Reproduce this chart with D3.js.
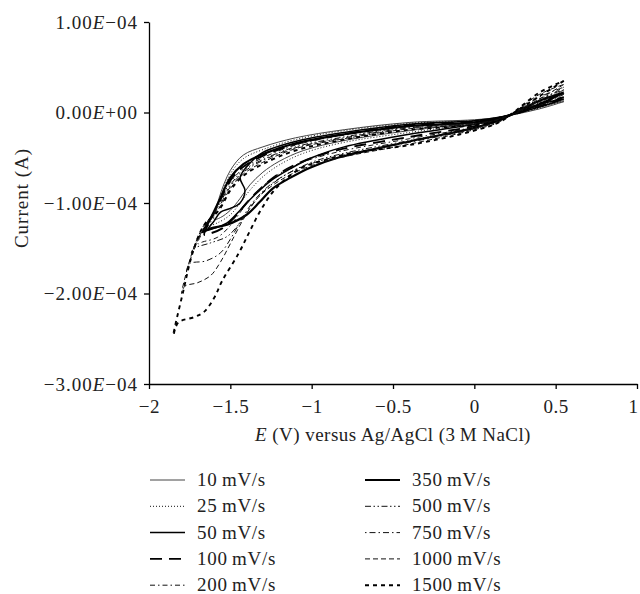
<!DOCTYPE html>
<html>
<head>
<meta charset="utf-8">
<script src="https://cdn.jsdelivr.net/npm/d3@7"></script>
<style>
  body { margin: 0; background: #fff; }
  svg { display: block; font-family: "Liberation Serif", "Times New Roman", serif; }
</style>
</head>
<body>
<div id="chart"></div>
<script>
// scan rates (mV/s), legend order
var scanRates = [10, 25, 50, 100, 200, 350, 500, 750, 1000, 1500];

// CV loops: [E (V), current (uA)]
// cathodic sweep from +0.55 V down to the vertex, then back up
var cv10 = [[0.55,12],[0.4,4],[0.16,-5],[0,-8],[-0.4,-11],[-0.8,-19],[-1.1,-28],[-1.3,-38],[-1.42,-47],[-1.5,-64],[-1.57,-95],[-1.60,-118],
            [-1.56,-116],[-1.50,-108],[-1.44,-95],[-1.38,-80],[-1.30,-66],[-1.2,-54],[-1.05,-42],[-0.8,-31],[-0.4,-20],[0,-11],[0.16,-5],[0.4,7],[0.55,12]];
var cv25 = [[0.55,13],[0.4,5],[0.16,-5],[0,-9],[-0.4,-12],[-0.8,-20],[-1.1,-30],[-1.3,-41],[-1.42,-51],[-1.5,-68],[-1.57,-98],[-1.62,-124],
            [-1.58,-122],[-1.50,-113],[-1.44,-100],[-1.38,-86],[-1.30,-71],[-1.2,-58],[-1.05,-45],[-0.8,-33],[-0.4,-22],[0,-12],[0.16,-6],[0.4,8],[0.55,13]];
var cv50 = [[0.55,15],[0.4,6],[0.16,-5],[0,-9],[-0.4,-13],[-0.8,-22],[-1.1,-32],[-1.3,-44],[-1.38,-56],[-1.44,-72],[-1.41,-86],[-1.44,-100],[-1.50,-106],[-1.56,-110],[-1.60,-120],[-1.64,-130],
            [-1.60,-128],[-1.52,-122],[-1.45,-110],[-1.40,-100],[-1.32,-86],[-1.24,-74],[-1.13,-62],[-1.0,-50],[-0.8,-38],[-0.4,-24],[0,-13],[0.16,-6],[0.4,9],[0.55,15]];
var cv100 = [[0.55,17],[0.4,7],[0.16,-6],[0,-10],[-0.4,-14],[-0.8,-24],[-1.1,-35],[-1.3,-48],[-1.42,-60],[-1.5,-75],[-1.57,-100],[-1.62,-118],[-1.66,-135],
             [-1.63,-134],[-1.55,-128],[-1.47,-115],[-1.40,-100],[-1.32,-85],[-1.22,-70],[-1.08,-56],[-0.85,-42],[-0.4,-27],[0,-15],[0.16,-7],[0.4,10],[0.55,17]];
var cv200 = [[0.55,20],[0.4,8],[0.16,-6],[0,-11],[-0.4,-15],[-0.8,-25],[-1.1,-36],[-1.3,-50],[-1.42,-62],[-1.5,-77],[-1.57,-100],[-1.64,-122],[-1.70,-145],
             [-1.67,-143],[-1.58,-138],[-1.50,-125],[-1.43,-108],[-1.35,-90],[-1.25,-74],[-1.1,-58],[-0.85,-44],[-0.4,-29],[0,-16],[0.16,-8],[0.4,12],[0.55,20]];
var cv350 = [[0.55,22],[0.4,9],[0.16,-6],[0,-11],[-0.4,-15],[-0.8,-24],[-1.1,-34],[-1.3,-46],[-1.42,-57],[-1.5,-72],[-1.57,-98],[-1.63,-120],[-1.67,-132],
             [-1.62,-128],[-1.52,-124],[-1.40,-113],[-1.32,-99],[-1.24,-84],[-1.13,-72],[-1.01,-61],[-0.84,-50],[-0.4,-32],[0,-17],[0.16,-8],[0.4,13],[0.55,22]];
var cv500 = [[0.55,25],[0.4,11],[0.16,-7],[0,-12],[-0.4,-16],[-0.8,-27],[-1.1,-38],[-1.3,-52],[-1.42,-64],[-1.5,-80],[-1.57,-102],[-1.65,-124],[-1.74,-155],
             [-1.72,-150],[-1.62,-144],[-1.52,-137],[-1.45,-124],[-1.38,-106],[-1.30,-88],[-1.18,-71],[-1.0,-55],[-0.8,-45],[-0.4,-31],[0,-17],[0.16,-9],[0.4,15],[0.55,25]];
var cv750 = [[0.55,28],[0.4,13],[0.16,-7],[0,-13],[-0.4,-17],[-0.8,-28],[-1.1,-39],[-1.3,-53],[-1.42,-66],[-1.5,-82],[-1.57,-104],[-1.66,-126],[-1.72,-150],[-1.77,-175],
             [-1.75,-167],[-1.65,-164],[-1.56,-155],[-1.50,-140],[-1.44,-121],[-1.37,-101],[-1.27,-82],[-1.12,-65],[-0.9,-51],[-0.4,-33],[0,-18],[0.16,-9],[0.4,17],[0.55,28]];
var cv1000 = [[0.55,31],[0.4,15],[0.16,-7],[0,-13],[-0.4,-18],[-0.8,-29],[-1.1,-40],[-1.3,-55],[-1.42,-68],[-1.5,-84],[-1.57,-106],[-1.66,-124],[-1.73,-152],[-1.80,-200],
              [-1.78,-192],[-1.70,-188],[-1.62,-180],[-1.56,-165],[-1.50,-145],[-1.42,-118],[-1.34,-96],[-1.22,-78],[-1.05,-62],[-0.85,-51],[-0.4,-35],[0,-19],[0.16,-10],[0.4,20],[0.55,31]];
var cv1500 = [[0.55,35],[0.4,18],[0.16,-8],[0,-14],[-0.4,-19],[-0.8,-30],[-1.1,-42],[-1.3,-57],[-1.42,-70],[-1.5,-86],[-1.57,-108],[-1.66,-124],[-1.73,-154],[-1.79,-198],[-1.85,-246],
              [-1.82,-232],[-1.72,-226],[-1.66,-220],[-1.60,-205],[-1.55,-186],[-1.45,-156],[-1.38,-131],[-1.31,-107],[-1.22,-84],[-1.07,-62],[-0.91,-52],[-0.76,-45],[-0.4,-36],[0,-20],[0.16,-10],[0.4,22],[0.55,35]];

var curves = [cv10, cv25, cv50, cv100, cv200, cv350, cv500, cv750, cv1000, cv1500];

var xTicks = [-2, -1.5, -1, -0.5, 0, 0.5, 1];
var yTicks = [-300, -200, -100, 0, 100]; // uA

// line look for each scan rate (same order as scanRates)
var styles = [
    {w: 1.0, dash: null,                        color: '#444'},
    {w: 1.0, dash: '1,2',                       color: '#111'},
    {w: 1.5, dash: null,                        color: '#000'},
    {w: 1.9, dash: '12,7',                      color: '#000'},
    {w: 1.0, dash: '5,3,1.5,3',                 color: '#111'},
    {w: 2.2, dash: null,                        color: '#000'},
    {w: 1.0, dash: '6,2.5,1.5,2.5,1.5,2.5',     color: '#111'},
    {w: 1.0, dash: '1.5,3,6,3',                 color: '#111'},
    {w: 1.0, dash: '5,3',                       color: '#111'},
    {w: 1.9, dash: '4,4',                       color: '#000'}
];

var W = 640, H = 594;
var labelFont = 19;

var svg = d3.select('#chart')
            .append('svg')
            .attr('width', W)
            .attr('height', H);

var x = d3.scaleLinear().domain([-2, 1]).range([149, 637]);
var y = d3.scaleLinear().domain([-300, 100]).range([384, 22]);

// curves
var line = d3.line()
    .x(function(d) { return x(d[0]); })
    .y(function(d) { return y(d[1]); })
    .curve(d3.curveCatmullRom.alpha(0.5));

svg.append('g')
    .selectAll('path')
    .data(curves)
    .enter()
    .append('path')
    .attr('d', line)
    .attr('fill', 'none')
    .attr('stroke', function(d, i) { return styles[i].color; })
    .attr('stroke-width', function(d, i) { return styles[i].w; })
    .attr('stroke-dasharray', function(d, i) { return styles[i].dash; })
    .attr('stroke-linejoin', 'round');

// x axis
var fmtX = d3.format('~g');
var gx = svg.append('g')
    .attr('transform', 'translate(0,384)')
    .call(d3.axisBottom(x).tickValues(xTicks).tickSize(5).tickSizeOuter(0)
        .tickFormat(function(d) { return fmtX(d); }));

// y axis
var gy = svg.append('g')
    .attr('transform', 'translate(149,0)')
    .call(d3.axisLeft(y).tickValues(yTicks).tickSize(5).tickSizeOuter(0));

[gx, gy].forEach(function(g) {
    g.select('.domain').attr('stroke', '#000').attr('stroke-width', 1.3);
    g.selectAll('.tick line').attr('stroke', '#000').attr('stroke-width', 1.3);
    g.selectAll('text')
        .attr('font-family', '"Liberation Serif", serif')
        .attr('font-size', labelFont)
        .attr('letter-spacing', 0.6)
        .attr('fill', '#222');
});
gx.selectAll('text').attr('dy', null).attr('y', 29);
// last label sits on the right edge
gx.selectAll('.tick text').filter(function(d) { return d === 1; }).attr('x', -4);

// y tick labels as 1.00E-04 with an italic E
gy.selectAll('.tick text')
    .attr('x', -11)
    .attr('dy', '0.33em')
    .attr('letter-spacing', 1)
    .text(null)
    .each(function(d) {
        var s = (d * 1e-6).toExponential(2).split('e');
        var mant = s[0].replace('-', '\u2212');
        var e = +s[1];
        var ex = (e < 0 ? '\u2212' : '+') + String(Math.abs(e)).padStart(2, '0');
        var t = d3.select(this);
        t.append('tspan').text(mant);
        t.append('tspan').attr('font-style', 'italic').text('E');
        t.append('tspan').text(ex);
    });

// axis titles
svg.append('text')
    .attr('transform', 'translate(28,198) rotate(-90)')
    .attr('text-anchor', 'middle')
    .attr('font-size', 19)
    .attr('letter-spacing', 1)
    .attr('fill', '#222')
    .text('Current (A)');

var xt = svg.append('text')
    .attr('x', 393)
    .attr('y', 441)
    .attr('text-anchor', 'middle')
    .attr('font-size', 19)
    .attr('letter-spacing', 0.45)
    .attr('fill', '#222');
xt.append('tspan').attr('font-style', 'italic').text('E');
xt.append('tspan').text(' (V) versus Ag/AgCl (3\u2009M NaCl)');

// legend, two columns of five
var legend = svg.append('g');
var items = legend.selectAll('g')
    .data(scanRates)
    .enter()
    .append('g')
    .attr('transform', function(d, i) {
        var col = Math.floor(i / 5), row = i % 5;
        return 'translate(' + (col ? 365 : 150) + ',' + (480 + row * 26.3) + ')';
    });

items.append('line')
    .attr('x1', 0).attr('x2', 35)
    .attr('y1', 0).attr('y2', 0)
    .attr('stroke', function(d, i) { return styles[i].color; })
    .attr('stroke-width', function(d, i) { return styles[i].w; })
    .attr('stroke-dasharray', function(d, i) { return styles[i].dash; });

items.append('text')
    .attr('x', 47)
    .attr('y', 6)
    .attr('font-size', labelFont)
    .attr('letter-spacing', 0.7)
    .attr('fill', '#222')
    .text(function(d) { return d + '\u2009mV/s'; });
</script>
</body>
</html>
